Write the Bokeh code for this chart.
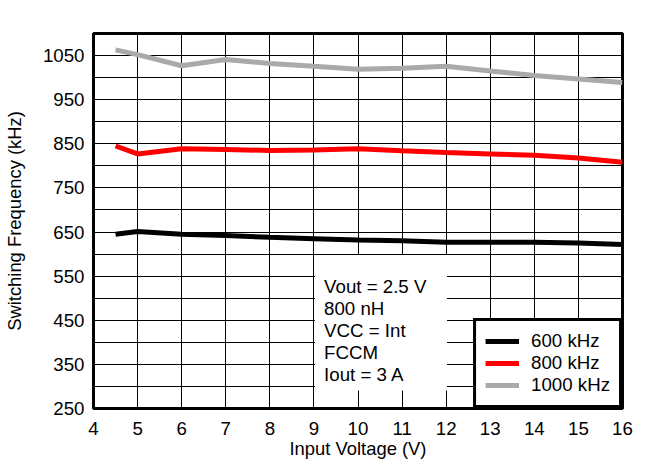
from bokeh.plotting import figure
from bokeh.models import Range1d, FixedTicker, Legend, LegendItem, Label
from bokeh.embed import file_html
from bokeh.resources import INLINE

# ---- data ----
vin = [4.5, 5, 6, 7, 8, 9, 10, 11, 12, 13, 14, 15, 16]
f600 = [645, 651, 645, 642, 638, 635, 632, 630, 627, 627, 627, 625, 622]
f800 = [845, 827, 839, 837, 835, 836, 839, 834, 830, 827, 824, 818, 808]
f1000 = [1063, 1052, 1027, 1041, 1032, 1026, 1019, 1021, 1026, 1015, 1005, 997, 989]
series_names = ["600 kHz", "800 kHz", "1000 kHz"]
series_colors = ["#000000", "#ff0000", "#aaaaaa"]
x_ticks = list(range(4, 17))
y_ticks = list(range(250, 1051, 100))
y_grid = list(range(250, 1101, 50))
note_lines = ["Vout = 2.5 V", "800 nH", "VCC = Int", "FCCM", "Iout = 3 A"]

FONT = "Liberation Sans"
FS = "18.7px"

p = figure(width=652, height=475, output_backend="svg", toolbar_location=None,
           x_range=Range1d(4, 16), y_range=Range1d(250, 1100),
           min_border_left=92, min_border_right=30, min_border_top=33, min_border_bottom=67)

p.background_fill_color = "white"
p.border_fill_color = "white"
p.outline_line_color = "black"
p.outline_line_width = 3
p.outline_line_alpha = 1.0

p.xaxis.ticker = FixedTicker(ticks=x_ticks)
p.yaxis.ticker = FixedTicker(ticks=y_ticks)
p.xgrid.ticker = FixedTicker(ticks=x_ticks)
p.ygrid.ticker = FixedTicker(ticks=y_grid)
for g in (p.xgrid, p.ygrid):
    g.grid_line_color = "black"
    g.grid_line_width = 1
    g.grid_line_alpha = 1.0

for ax in (p.xaxis, p.yaxis):
    ax.axis_line_color = None
    ax.major_tick_line_color = None
    ax.minor_tick_line_color = None
    ax.major_tick_out = 0
    ax.major_tick_in = 0
    ax.minor_tick_out = 0
    ax.major_label_text_font = FONT
    ax.major_label_text_font_size = FS
    ax.major_label_text_color = "black"
    ax.axis_label_text_font = FONT
    ax.axis_label_text_font_size = "18.4px"
    ax.axis_label_text_font_style = "normal"
    ax.axis_label_text_color = "black"

p.xaxis.axis_label = "Input Voltage (V)"
p.yaxis.axis_label = "Switching Frequency (kHz)"
p.xaxis.major_label_standoff = 13
p.yaxis.major_label_standoff = 9
p.xaxis.axis_label_standoff = 0
p.yaxis.axis_label_standoff = 15

# annotation box
p.quad(left=[9.02], right=[12.02], bottom=[291], top=[598],
       fill_color="white", line_color=None)
for i, t in enumerate(note_lines):
    p.add_layout(Label(x=9.23, y=526.5 - 50 * i, text=t, text_font=FONT,
                       text_font_size=FS, text_color="black",
                       text_baseline="alphabetic"))

items = []
for name, ys, c in zip(series_names, [f600, f800, f1000], series_colors):
    r = p.line(vin, ys, line_color=c, line_width=5)
    items.append(LegendItem(label=name, renderers=[r]))

legend = Legend(items=items, location="bottom_right", margin=0,
                padding=9, spacing=0, glyph_width=34, glyph_height=22,
                label_height=22, label_standoff=12,
                label_text_font=FONT, label_text_font_size=FS,
                label_text_color="black",
                border_line_color="black", border_line_width=3,
                border_line_alpha=1.0,
                background_fill_color="white", background_fill_alpha=1.0)
p.add_layout(legend)

open("out.html", "w").write(file_html(p, INLINE))
